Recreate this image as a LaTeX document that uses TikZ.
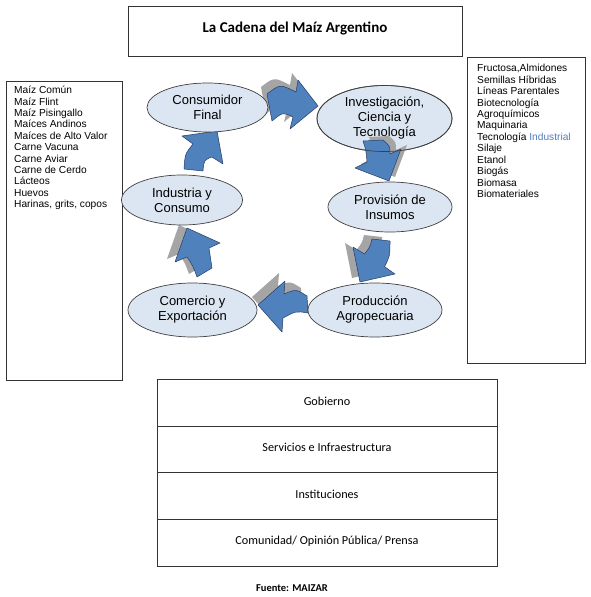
\documentclass[tikz,border=0pt]{standalone}
\usepackage{fontspec}
\setmainfont{Liberation Sans}
\newfontfamily\calibri{Carlito}
\usetikzlibrary{shapes.geometric}
\definecolor{ellfill}{RGB}{220,230,242}
\definecolor{ellline}{RGB}{64,64,64}
\definecolor{arrblue}{RGB}{79,129,189}
\definecolor{arrline}{RGB}{40,60,100}
\definecolor{shadowc}{RGB}{165,165,165}
\definecolor{indblue}{RGB}{84,125,190}
\tikzset{
  ell/.style={ellipse, draw=ellline, fill=ellfill, line width=0.7pt, inner sep=0pt,
    align=center, font=\fontsize{13}{15}\selectfont},
  boxframe/.style={draw=black!80, line width=0.9pt},
  listtext/.style={anchor=base west, inner sep=0pt, font=\fontsize{10.2}{11}\selectfont},
  rowtext/.style={inner sep=0pt, font=\calibri\fontsize{12.2}{14}\selectfont},
  barrow/.style={fill=arrblue, draw=arrline, line width=0.5pt, line join=round},
  bshadow/.style={fill=shadowc}
}
\begin{document}
\begin{tikzpicture}[x=1pt,y=-1pt]
\useasboundingbox (0,0) rectangle (590,597);
\fill[white] (0,0) rectangle (590,597);
% title
\draw[boxframe] (128,6) rectangle (462,56);
\node[inner sep=0pt, font=\calibri\bfseries\fontsize{15}{17}\selectfont] (title) at (295,28) {La Cadena del Maíz Argentino};
% left list
\draw[boxframe] (6,81) rectangle (122,380);
\foreach \t [count=\i] in {Maíz Común, Maíz Flint, Maíz Pisingallo, Maíces Andinos, Maíces de Alto Valor, Carne Vacuna, Carne Aviar, Carne de Cerdo, Lácteos, Huevos, {Harinas, grits, copos}}
  \node[listtext] (L\i) at (14,{90+3.7+11.4*(\i-1)}) {\t};
% right list
\draw[boxframe] (467,57) rectangle (585,363);
\foreach \t [count=\i] in {{Fructosa,Almidones}, Semillas Híbridas, Líneas Parentales, Biotecnología, Agroquímicos, Maquinaria, {Tecnología \textcolor{indblue}{Industrial}}, Silaje, Etanol, Biogás, Biomasa, Biomateriales}
  \node[listtext] (R\i) at (477,{68+3.7+11.45*(\i-1)}) {\t};
% arrow outlines
\def\arrA{(267,94) .. controls (280,84) .. (296,92) -- (298,80) -- (318,106) -- (290,129) -- (293,117) .. controls (283,112) .. (272,121) -- cycle}
\def\arrB{(383,140) .. controls (390,146) .. (390,154) -- (401,149) -- (389,181) -- (355,168) -- (367,162) .. controls (366,150) .. (363,141) -- cycle}
\def\arrC{(390,241) .. controls (390,256) .. (384.5,266.7) -- (395,274) -- (360,282) -- (353,247) -- (364.5,254) .. controls (370,247) .. (372,239) -- cycle}
\def\arrD{(307,296) .. controls (296,289) .. (284,294) -- (285,281) -- (258,305) -- (282,332) -- (283,318) .. controls (296,311) .. (308,313) -- cycle}
\def\arrE{(212,268) .. controls (211,258) .. (209,248) -- (220,243) -- (187,228) -- (175,262) -- (187,257) .. controls (193,266) .. (197,277) -- cycle}
\def\arrF{(184,169) .. controls (185,154) .. (193,144) -- (182,136) -- (217,131) -- (223,164) -- (212,157) .. controls (204,160) .. (203,171) -- cycle}
\fill[bshadow, shift={(-6,-7)}] \arrA;
\fill[bshadow, shift={(-8,-4)}] \arrC;
\fill[bshadow, shift={(-6,-8)}] \arrD;
\fill[bshadow, shift={(-8,-3)}] \arrE;
\draw[barrow] \arrA;
\draw[barrow] \arrC;
\draw[barrow] \arrD;
\draw[barrow] \arrE;
\draw[barrow] \arrF;
% ellipses
\node[ell, minimum width=121pt, minimum height=49pt] (cons) at (207.5,107.5) {Consumidor\\Final};
\node[ell, minimum width=135pt, minimum height=66pt] (inv) at (384.5,118.5) {Investigación,\\Ciencia y\\Tecnología};
\node[ell, minimum width=124pt, minimum height=50pt] (prov) at (390,207) {Provisión de\\Insumos};
\node[ell, minimum width=121pt, minimum height=50pt] (ind) at (182,200) {Industria y\\Consumo};
\node[ell, minimum width=129pt, minimum height=54pt] (com) at (192.5,310) {Comercio y\\Exportación};
\node[ell, minimum width=134pt, minimum height=54pt] (prod) at (375,310) {Producción\\Agropecuaria};
% arrow from Investigacion drawn over its ellipse, outline redrawn over it
\fill[bshadow, shift={(6,-4)}] \arrB;
\draw[barrow] \arrB;
\draw[ellline, line width=0.7pt] (inv.center) ellipse [x radius=67.5pt, y radius=33pt];
% bottom stack
\draw[boxframe] (157,379) rectangle (497,566);
\draw[boxframe] (157,426) -- (497,426);
\draw[boxframe] (157,472) -- (497,472);
\draw[boxframe] (157,519) -- (497,519);
\node[rowtext] (gob) at (327,401) {Gobierno};
\node[rowtext] (serv) at (327,447) {Servicios e Infraestructura};
\node[rowtext] (inst) at (327,494) {Instituciones};
\node[rowtext] (comu) at (327,541) {Comunidad/ Opinión Pública/ Prensa};
\node[inner sep=0pt, font=\calibri\bfseries\fontsize{10.5}{12}\selectfont] (fuente) at (292,588) {Fuente: MAIZAR};
\end{tikzpicture}
\end{document}
